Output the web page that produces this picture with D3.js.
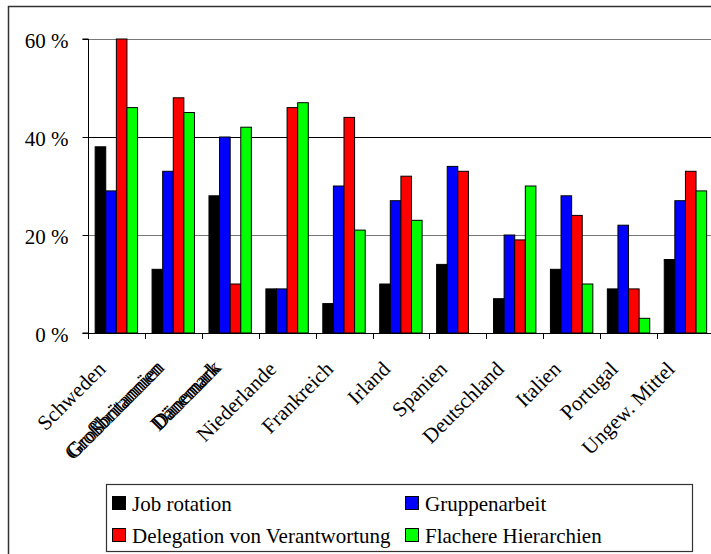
<!DOCTYPE html>
<html>
<head>
<meta charset="utf-8">
<script src="https://cdn.jsdelivr.net/npm/d3@7"></script>
<style>
  html, body { margin: 0; padding: 0; background: #fff; }
  svg { display: block; }
  text { font-family: "Liberation Serif", "Times New Roman", serif; fill: #000; }
</style>
</head>
<body>
<svg id="chart" width="711" height="554"></svg>
<script>
// Countries (plus unweighted mean) along the x axis
const categories = ["Schweden", "Großbritannien", "Dänemark", "Niederlande", "Frankreich",
  "Irland", "Spanien", "Deutschland", "Italien", "Portugal", "Ungew. Mittel"];

// Share of workplaces per measure, in percent
const jobRotation    = [38, 13, 28, 9, 6, 10, 14, 7, 13, 9, 15];
const gruppenarbeit  = [29, 33, 40, 9, 30, 27, 34, 20, 28, 22, 27];
const delegation     = [60, 48, 10, 46, 44, 32, 33, 19, 24, 9, 33];
const flachereHier   = [46, 45, 42, 47, 21, 23, 0, 30, 10, 3, 29];

const seriesNames = ["Job rotation", "Gruppenarbeit", "Delegation von Verantwortung", "Flachere Hierarchien"];
const seriesColors = ["#000000", "#0000ff", "#ff0000", "#00ff00"];
const yTicks = [0, 20, 40, 60];

const seriesValues = [jobRotation, gruppenarbeit, delegation, flachereHier];

// Labels that are rendered overprinted (doubled) in the chart
const doubled = new Set(["Großbritannien", "Dänemark"]);

const FONT = 21;

const svg = d3.select("#chart");

// Outer chart frame (extends past the right/bottom edge of the view)
svg.append("path")
  .attr("d", "M8.5,560 L8.5,6.5 L720,6.5")
  .attr("fill", "none")
  .attr("stroke", "#333")
  .attr("stroke-width", 1.5);

const x = d3.scaleBand().domain(categories).range([88, 714]).padding(0);
const bw = x.bandwidth();
const inner = d3.scaleBand().domain(d3.range(4)).range([bw * 0.117, bw * 0.862]).padding(0);
const y = d3.scaleLinear().domain([0, 60]).range([333, 39]);

// Horizontal gridlines
svg.append("g")
  .selectAll("line")
  .data(yTicks.filter(d => d > 0))
  .join("line")
  .attr("x1", 88).attr("x2", 714)
  .attr("y1", d => Math.round(y(d)) + 0.5)
  .attr("y2", d => Math.round(y(d)) + 0.5)
  .attr("stroke", d => d === 40 ? "#000" : "#777")
  .attr("stroke-width", 1);

// Bars
const groups = svg.append("g")
  .selectAll("g")
  .data(categories)
  .join("g")
  .attr("transform", d => `translate(${x(d)},0)`);

groups.selectAll("rect")
  .data((d, i) => seriesValues.map((s, k) => ({ k, v: s[i] })).filter(e => e.v > 0))
  .join("rect")
  .attr("x", d => inner(d.k) + 0.5)
  .attr("y", d => y(d.v))
  .attr("width", inner.bandwidth())
  .attr("height", d => y(0) - y(d.v))
  .attr("fill", d => seriesColors[d.k])
  .attr("stroke", "#000")
  .attr("stroke-width", 1);

// Y axis
const yAxis = d3.axisLeft(y)
  .tickValues(yTicks)
  .tickSize(6)
  .tickPadding(14)
  .tickFormat(d => d + " %");

const gy = svg.append("g")
  .attr("transform", "translate(88.5,0)")
  .call(yAxis);
gy.select(".domain").attr("stroke", "#000").attr("d", `M-6,${y(60)}H0V${y(0)}H-6`);
gy.selectAll(".tick line").attr("stroke", "#000");
gy.selectAll(".tick text")
  .attr("font-size", FONT)
  .attr("font-family", "Liberation Serif, serif")
  .attr("dy", "0.42em");

// X axis
const xAxis = d3.axisBottom(x).tickSize(0).tickFormat("");
const gx = svg.append("g")
  .attr("transform", "translate(0,333.5)")
  .call(xAxis);
gx.select(".domain").attr("stroke", "#000").attr("d", "M88,0H714");

// Category boundary tick marks
svg.append("g")
  .selectAll("line")
  .data(categories.concat([null]))
  .join("line")
  .attr("x1", (d, i) => Math.round(88 + i * bw) + 0.5)
  .attr("x2", (d, i) => Math.round(88 + i * bw) + 0.5)
  .attr("y1", 333).attr("y2", 339)
  .attr("stroke", "#000");

// Rotated category labels
const labels = svg.append("g")
  .selectAll("g")
  .data(categories)
  .join("g")
  .attr("transform", d => `translate(${x(d) + bw / 2 - 20},${360}) rotate(-45)`);

labels.each(function (d) {
  const g = d3.select(this);
  const offsets = doubled.has(d) ? [0, 2.5] : [0];
  offsets.forEach(o => {
    g.append("text")
      .attr("x", o)
      .attr("text-anchor", "end")
      .attr("dy", "0.7em")
      .attr("font-size", FONT)
      .text(d);
  });
});

// Legend
const legend = svg.append("g");
legend.append("rect")
  .attr("x", 106.5).attr("y", 484.5)
  .attr("width", 586).attr("height", 67)
  .attr("fill", "#fff")
  .attr("stroke", "#333")
  .attr("stroke-width", 1.2);

const legendPos = [
  { x: 112, y: 496 },
  { x: 405, y: 496 },
  { x: 112, y: 528 },
  { x: 405, y: 528 }
];

const items = legend.selectAll("g.item")
  .data(seriesNames)
  .join("g")
  .attr("class", "item")
  .attr("transform", (d, i) => `translate(${legendPos[i].x},${legendPos[i].y})`);

items.append("rect")
  .attr("x", 0.5).attr("y", 0.5)
  .attr("width", 13).attr("height", 13)
  .attr("fill", (d, i) => seriesColors[i])
  .attr("stroke", "#000");

items.append("text")
  .attr("x", 20)
  .attr("y", 15)
  .attr("font-size", FONT)
  .text(d => d);
</script>
</body>
</html>
